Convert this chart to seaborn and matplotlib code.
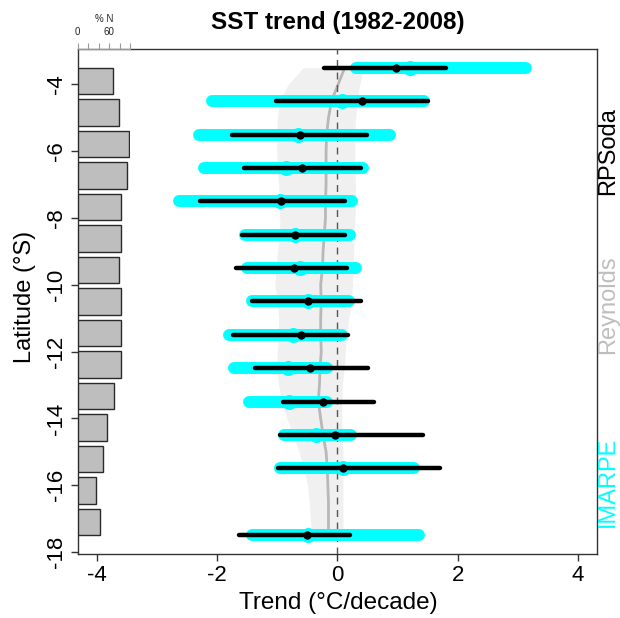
import numpy as np
import pandas as pd
import matplotlib
matplotlib.use("Agg")
import matplotlib.pyplot as plt
import matplotlib.transforms as mtrans
import seaborn as sns

# ---------------- data ----------------
row_lat = [-3.5, -4.5, -5.5, -6.5, -7.5, -8.5, -9.5, -10.5, -11.5, -12.5,
           -13.5, -14.5, -15.5, -16.5, -17.5]
nan = np.nan
imarpe_mean = [1.20, 0.07, -0.65, -0.85, -0.96, -0.71, -0.63, -0.49, -0.74, -0.82,
               -0.80, -0.35, 0.09, nan, -0.49]
imarpe_lo = [0.30, -2.08, -2.31, -2.22, -2.64, -1.53, -1.50, -1.42, -1.80, -1.72,
             -1.47, -0.89, -0.96, nan, -1.42]
imarpe_hi = [3.13, 1.44, 0.88, 0.43, 0.24, 0.20, 0.30, 0.19, 0.08, -0.17,
             -0.17, 0.23, 1.27, nan, 1.36]
rpsoda_mean = [0.98, 0.41, -0.63, -0.59, -0.94, -0.71, -0.72, -0.49, -0.60, -0.46,
               -0.24, -0.04, 0.09, nan, -0.51]
rpsoda_lo = [-0.23, -1.03, -1.76, -1.56, -2.29, -1.59, -1.69, -1.42, -1.73, -1.37,
             -0.91, -0.95, -0.99, nan, -1.64]
rpsoda_hi = [1.80, 1.50, 0.49, 0.39, 0.12, 0.12, 0.15, 0.39, 0.18, 0.51,
             0.61, 1.42, 1.70, nan, 0.20]

rey_lat = [-3.5, -4.0, -4.5, -5.0, -5.5, -6.0, -6.5, -7.0, -7.5, -8.0, -8.5, -9.0,
           -9.5, -10.0, -10.5, -11.0, -11.5, -12.0, -12.5, -13.0, -13.5, -14.0,
           -14.5, -15.0, -15.5, -16.0, -16.5, -17.0, -17.5]
rey_mean = [0.12, 0.01, -0.10, -0.15, -0.18, -0.19, -0.19, -0.19, -0.20, -0.20,
            -0.22, -0.24, -0.25, -0.28, -0.27, -0.28, -0.28, -0.27, -0.29, -0.30,
            -0.32, -0.28, -0.24, -0.19, -0.17, -0.16, -0.15, -0.15, -0.15]
rey_lo = [-0.57, -0.82, -0.96, -1.00, -1.01, -1.01, -1.00, -0.98, -0.97, -0.96,
          -0.96, -1.00, -1.02, -1.04, -1.00, -0.98, -0.98, -1.00, -1.01, -0.98,
          -0.93, -0.84, -0.74, -0.64, -0.56, -0.50, -0.47, -0.45, -0.43]
rey_hi = [0.43, 0.37, 0.33, 0.30, 0.29, 0.29, 0.29, 0.30, 0.30, 0.29, 0.28, 0.27,
          0.26, 0.25, 0.23, 0.19, 0.15, 0.13, 0.11, 0.08, 0.07, 0.07, 0.08, 0.09,
          0.09, 0.09, 0.09, 0.09, 0.09]

bar_bins = ["-3.5", "-4.5", "-5.5", "-6.5", "-7.5", "-8.5", "-9.5", "-10.5",
            "-11.5", "-12.5", "-13.5", "-14.5", "-15.5", "-16.5", "-17.5"]
pct_n = [68, 78, 97, 94, 82, 82, 78, 82, 82, 82, 70, 56, 48, 34, 43]

x_ticks = [-4, -2, 0, 2, 4]
x_ticklabels = ["-4", "-2", "0", "2", "4"]
y_ticks = [-4, -6, -8, -10, -12, -14, -16, -18]
y_ticklabels = ["-4", "-6", "-8", "-10", "-12", "-14", "-16", "-18"]
pct_ticks = [0, 20, 40, 60, 80, 100]
pct_ticklabels = ["0", "", "", "60", "", ""]

# ---------------- style ----------------
sns.set_theme(style="white")
plt.rcParams['font.family'] = ['Liberation Sans', 'DejaVu Sans']
plt.rcParams['axes.unicode_minus'] = False
plt.rcParams['text.color'] = 'black'

W, H = 620, 618
fig = plt.figure(figsize=(W / 100, H / 100), dpi=100)
fig.patch.set_facecolor('white')

L, R, T, B = 77.7, 597.3, 49.0, 554.0
ax = fig.add_axes([L / W, 1 - B / H, (R - L) / W, (B - T) / H])
ax.set_xlim(-4.32, 4.32)
ax.set_ylim(-18.06, -2.94)

CYAN = '#00FFFF'
ax.fill_betweenx(rey_lat, rey_lo, rey_hi, color='#F0F0F0', lw=0, zorder=1)
sns.lineplot(x=rey_mean, y=rey_lat, orient='y', sort=False, estimator=None,
             color='#B8B8B8', lw=2.0, ax=ax, zorder=2)
ax.axvline(0, color='#555555', lw=1.0, ls=(0, (5, 4)), zorder=3)

for i, lat in enumerate(row_lat):
    if not np.isnan(imarpe_mean[i]):
        ax.plot([imarpe_lo[i], imarpe_hi[i]], [lat, lat], color=CYAN, lw=8.6,
                solid_capstyle='round', zorder=4)
        ax.plot([imarpe_mean[i]], [lat], 'o', color=CYAN, ms=10.8, mew=0, zorder=4)
    if not np.isnan(rpsoda_mean[i]):
        ax.plot([rpsoda_lo[i], rpsoda_hi[i]], [lat, lat], color='black', lw=3.2,
                solid_capstyle='round', zorder=5)
        ax.plot([rpsoda_mean[i]], [lat], 'o', color='black', ms=6, mew=0, zorder=5)

ax.set_xticks(x_ticks)
ax.set_xticklabels(x_ticklabels, fontsize=16)
ax.set_yticks(y_ticks)
ax.set_yticklabels(y_ticklabels, fontsize=16, rotation=90, va='center')
ax.tick_params(axis='both', direction='out', length=5, width=1, color='#333333',
               left=True, bottom=True, labelcolor='black')
ax.tick_params(axis='x', pad=3)
ax.tick_params(axis='y', pad=3)
ax.set_xlabel('')
ax.set_ylabel('')
for s in ax.spines.values():
    s.set_color('#333333')
    s.set_linewidth(1.0)

# right-side series labels
tr = mtrans.blended_transform_factory(ax.transAxes, ax.transData)
xr = 1.0 + (608 - R) / (R - L)
ax.text(xr, -6.0, 'RPSoda', color='black', rotation=90, ha='center', va='center',
        fontsize=17, transform=tr, clip_on=False)
ax.text(xr, -10.6, 'Reynolds', color='#BEBEBE', rotation=90, ha='center', va='center',
        fontsize=17, transform=tr, clip_on=False)
ax.text(xr, -15.9, 'IMARPE', color=CYAN, rotation=90, ha='center', va='center',
        fontsize=17, transform=tr, clip_on=False)

# ---------------- inset histogram ----------------
ins = fig.add_axes([L / W, 1 - B / H, 52.4 / W, (B - T) / H])
ins.patch.set_alpha(0)
bar_df = pd.DataFrame({'bin': bar_bins, 'pct': pct_n})
sns.barplot(data=bar_df, x='pct', y='bin', orient='h', color='#BEBEBE', saturation=1,
            edgecolor='#2a2a2a', linewidth=1.0, width=1 / 1.2, ax=ins)
ins.set_xlim(0, 100)
ins.set_ylim(len(bar_bins) - 1 + 1.0167, -1.0167)
ins.set_yticks([])
ins.set_ylabel('')
ins.xaxis.tick_top()
ins.xaxis.set_label_position('top')
ins.set_xticks(pct_ticks)
ins.set_xticklabels(pct_ticklabels, fontsize=7, color='#222222')
ins.tick_params(axis='x', direction='out', length=4.5, width=0.8, color='#999999',
                top=True, bottom=False, pad=4)
ins.set_xlabel('% N', fontsize=7, color='#222222', labelpad=4)
for k in ['left', 'right', 'bottom']:
    ins.spines[k].set_visible(False)
ins.spines['top'].set_color('#999999')
ins.spines['top'].set_linewidth(0.8)

# ---------------- titles ----------------
fig.text(338 / W, 1 - 22 / H, 'SST trend (1982-2008)', fontsize=17.5,
         fontweight='bold', ha='center', va='center', color='black')
fig.text(338 / W, 1 - 603 / H, 'Trend (°C/decade)', fontsize=17.5,
         ha='center', va='center', color='black')
fig.text(25 / W, 1 - 297 / H, 'Latitude (°S)', fontsize=17, rotation=90,
         ha='center', va='center', color='black')

fig.savefig('out.png', dpi=100)
